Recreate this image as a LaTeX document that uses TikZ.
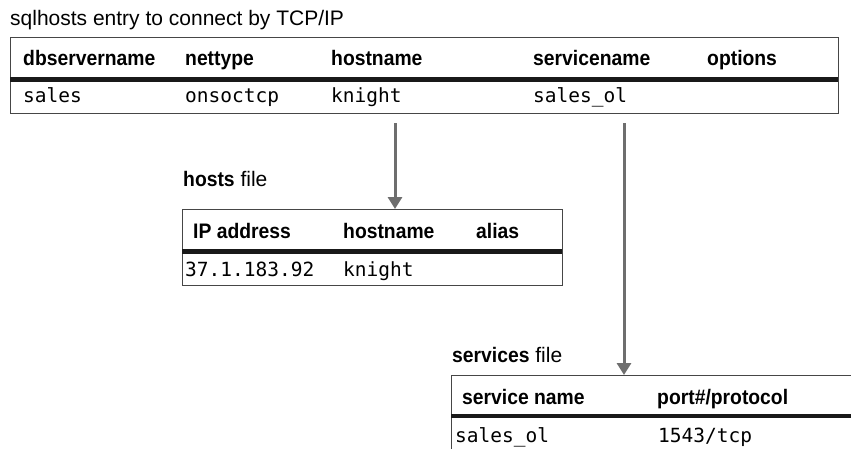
\documentclass[tikz,border=0pt]{standalone}
\usepackage{fontspec}
\setmainfont{Liberation Sans}[BoldFeatures={FakeStretch=0.92}]
\newfontfamily\cellmono{DejaVu Sans Mono}
\usepackage{tikz}
\usetikzlibrary{positioning, arrows.meta}
\definecolor{framecolor}{RGB}{70,70,70}
\definecolor{arrowcolor}{RGB}{110,110,110}
\definecolor{rulecolor}{RGB}{25,25,25}
\newcommand{\bigfont}{\fontsize{21}{25}\selectfont}
\newcommand{\monofont}{\cellmono\fontsize{19.5}{23}\selectfont}

\tikzset{
    tabframe/.style={draw=framecolor, line width=1.3pt, rectangle, inner sep=0, anchor=north west},
    headrule/.style={draw=rulecolor, line width=4.5pt},
    colhead/.style={anchor=base west, inner sep=0, font=\bigfont\bfseries},
    cell/.style={anchor=base west, inner sep=0, font=\monofont},
    caption/.style={anchor=base west, inner sep=0, font=\bigfont},
    flow/.style={draw=arrowcolor, line width=3pt, -{Triangle[length=12pt, width=14pt]}}
}

\begin{document}
\begin{tikzpicture}[x=1pt, y=-1pt]
    \clip (0,0) rectangle (851,448);
    \fill[white] (0,0) rectangle (851,448);

    % Titre
    \node[caption] (title) at (10,25) {sqlhosts entry to connect by TCP/IP};

    % Table sqlhosts
    \node[tabframe, minimum width=828, minimum height=76] (sqltab) at (10,37) {};
    \draw[headrule] (10,79.5) -- (838,79.5);
    \node[colhead] (dbs) at (23,65) {dbservername};
    \node[colhead] (net) at (185,65) {nettype};
    \node[colhead] (hst) at (331,65) {hostname};
    \node[colhead] (svc) at (533,65) {servicename};
    \node[colhead] (opt) at (707,65) {options};
    \node[cell] (sales) at (23,102) {sales};
    \node[cell] (onsoc) at (185,102) {onsoctcp};
    \node[cell] (kn) at (331,102) {knight};
    \node[cell] (sol) at (533,102) {sales\_ol};

    % Fichier hosts
    \node[caption] (hostlbl) at (183,186) {\textbf{hosts} file};
    \node[tabframe, minimum width=380, minimum height=76] (hosttab) at (182,209) {};
    \draw[headrule] (182,251.5) -- (562,251.5);
    \node[colhead] (ipa) at (193,238) {IP address};
    \node[colhead] (hhn) at (343,238) {hostname};
    \node[colhead] (ali) at (476,238) {alias};
    \node[cell] (ipv) at (185,276) {37.1.183.92};
    \node[cell] (hkn) at (343,276) {knight};

    % Fichier services
    \node[caption] (servlbl) at (452,362) {\textbf{services} file};
    \node[tabframe, minimum width=420, minimum height=78] (servtab) at (451,375) {};
    \draw[headrule] (451,416) -- (871,416);
    \node[colhead] (snm) at (462,404) {service name};
    \node[colhead] (prt) at (657,404) {port\#/protocol};
    \node[cell] (ssol) at (455,442) {sales\_ol};
    \node[cell] (port) at (658,442) {1543/tcp};

    % Fleches
    \coordinate (hostcol) at (395,0);
    \coordinate (servcol) at (624,0);
    \draw[flow] ([yshift=-9pt]sqltab.south -| hostcol) -- (hosttab.north -| hostcol);
    \draw[flow] ([yshift=-9pt]sqltab.south -| servcol) -- (servtab.north -| servcol);
\end{tikzpicture}
\end{document}
